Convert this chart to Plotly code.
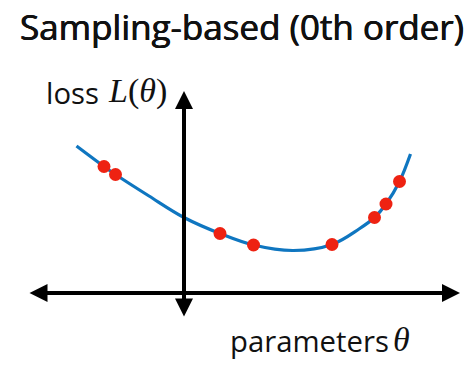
import plotly.graph_objects as go

# ---- data (theta, loss) ----
curve_theta = [-2.15, -1.6, -1.37, -0.7, 0.0, 0.72, 1.39, 2.19, 2.96, 3.5, 3.81, 4.04, 4.31, 4.53]
curve_loss = [2.94, 2.53, 2.37, 1.94, 1.51, 1.19, 0.96, 0.85, 0.97, 1.28, 1.51, 1.78, 2.23, 2.78]
sample_theta = [-1.6, -1.37, 0.72, 1.39, 2.96, 3.81, 4.04, 4.31]
sample_loss = [2.53, 2.37, 1.19, 0.96, 0.97, 1.51, 1.78, 2.23]
h_axis_theta = [-3.12, 5.52]
v_axis_loss = [-0.5, 4.04]

# page body has an 8px margin, so the figure is drawn 8px smaller and offset
OFF = 8
W, H = 476 - OFF, 375 - OFF
X0, Y0, S = 184 - OFF, 293 - OFF, 50  # pixel position of origin and scale (layout only)

def px(x):
    return (x - OFF) / W

def py(y):
    return 1 - (y - OFF) / H

BLUE = "#0f76c0"
RED = "#ee2212"
SANS = "'Open Sans', Lato, sans-serif"
SERIF = "'Liberation Serif', 'DejaVu Serif', serif"
INK = "#111111"

fig = go.Figure()
fig.add_trace(go.Scatter(x=curve_theta, y=curve_loss, mode="lines",
                         line=dict(color=BLUE, width=3.2, shape="spline", smoothing=1.0),
                         hoverinfo="skip", showlegend=False))
fig.add_trace(go.Scatter(x=sample_theta, y=sample_loss, mode="markers",
                         marker=dict(color=RED, size=13, line=dict(width=0)),
                         showlegend=False))

# axes arrows
arrow_style = dict(xref="x", yref="y", axref="x", ayref="y", text="",
                   showarrow=True, arrowhead=2, startarrowhead=2, arrowside="end+start",
                   arrowwidth=4, arrowsize=0.9, startarrowsize=0.9, arrowcolor="black")
fig.add_annotation(x=h_axis_theta[1], y=0, ax=h_axis_theta[0], ay=0, **arrow_style)
fig.add_annotation(x=0, y=v_axis_loss[1], ax=0, ay=v_axis_loss[0], **arrow_style)

# texts
fig.add_annotation(x=px(241.5), y=py(26.3), xref="paper", yref="paper", text="Sampling-based (0th order)",
                   showarrow=False, xanchor="center", yanchor="middle", borderpad=0,
                   font=dict(family=SANS, size=35, color=INK,
                             shadow="0.4px 0 0 #111111, -0.4px 0 0 #111111"))
fig.add_annotation(x=px(44), y=py(93.3), xref="paper", yref="paper", text="loss",
                   showarrow=False, xanchor="left", yanchor="middle",
                   font=dict(family=SANS, size=29.3, color=INK))
fig.add_annotation(x=px(106), y=py(91.5), xref="paper", yref="paper", text="<i>L</i>(<i>θ</i>)",
                   showarrow=False, xanchor="left", yanchor="middle",
                   font=dict(family=SERIF, size=34, color=INK))
fig.add_annotation(x=px(228), y=py(340.6), xref="paper", yref="paper", text="parameters",
                   showarrow=False, xanchor="left", yanchor="middle",
                   font=dict(family=SANS, size=29.3, color=INK))
fig.add_annotation(x=px(391), y=py(339), xref="paper", yref="paper", text="<i>θ</i>",
                   showarrow=False, xanchor="left", yanchor="middle",
                   font=dict(family=SERIF, size=34, color=INK))

fig.update_xaxes(range=[-X0 / S, (W - X0) / S], visible=False, fixedrange=True)
fig.update_yaxes(range=[(Y0 - H) / S, Y0 / S], visible=False, fixedrange=True)
fig.update_layout(width=W, height=H, margin=dict(l=0, r=0, t=0, b=0),
                  plot_bgcolor="white", paper_bgcolor="white", showlegend=False)

fig.write_html("out.html", config={"displayModeBar": False})
